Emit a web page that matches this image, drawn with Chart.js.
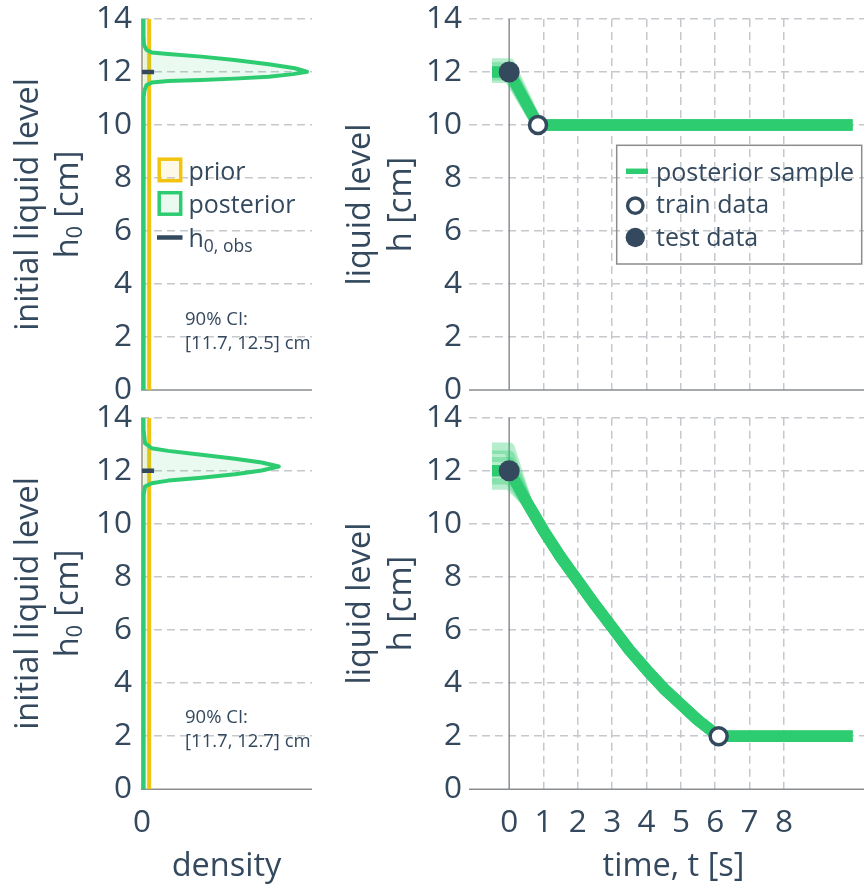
<!DOCTYPE html>
<html>
<head>
<meta charset="utf-8">
<title>Liquid level - prior / posterior</title>
<script src="https://cdn.jsdelivr.net/npm/chart.js@4.4.1/dist/chart.umd.min.js"></script>
<style>
  html, body { margin: 0; padding: 0; background: #fff; overflow: hidden; }
  body { width: 864px; height: 886px; position: relative; }
  canvas { position: absolute; }
</style>
</head>
<body>
<canvas id="densTop" width="330" height="404" style="left:0;top:0"></canvas>
<canvas id="densBot" width="330" height="486" style="left:0;top:400px"></canvas>
<canvas id="timeTop" width="548" height="404" style="left:330px;top:0"></canvas>
<canvas id="timeBot" width="548" height="486" style="left:330px;top:400px"></canvas>
<script>
// ── Style ────────────────────────────────────────────────────────────────────
const FONT   = "'Open Sans', 'Noto Sans', sans-serif";
const TEXT   = "#34495e";
const GREEN  = "#2ecc71";
const YELLOW = "#f1c40f";
const DARK   = "#34495e";
const GRID   = "#c5c8cc";
const ZERO   = "#8b8e91";
const TICK_SIZE = 31.5, TITLE_SIZE = 32.5, LEGEND_SIZE = 25, NOTE_SIZE = 18.5;

// ── Data ─────────────────────────────────────────────────────────────────────
const hTicks       = [0, 2, 4, 6, 8, 10, 12, 14];
const timeTicks    = [0, 1, 2, 3, 4, 5, 6, 7, 8];
const densityTicks = [0];

// prior: uniform over the h axis
const priorRange   = [0, 14];
const priorDensity = 0.0714;
const h0Obs        = 12;

// posterior density of h0 (top: after first train point, bottom: after second)
const postTopH       = [0, 10.8, 11.07, 11.32, 11.51, 11.6, 11.66, 11.7, 11.75, 11.82, 11.92, 12.01, 12.14, 12.29, 12.45, 12.58, 12.68, 12.74, 12.83, 13.02, 13.33, 14];
const postTopDensity = [0.015, 0.015, 0.017, 0.026, 0.046, 0.096, 0.26, 0.59, 0.92, 1.26, 1.5, 1.64, 1.52, 1.26, 0.92, 0.59, 0.26, 0.096, 0.046, 0.02, 0.016, 0.015];
const ciTop          = [11.7, 12.5];

const postBotH       = [0, 10.8, 11.09, 11.41, 11.53, 11.63, 11.74, 11.87, 12.01, 12.16, 12.31, 12.45, 12.6, 12.75, 12.85, 13.04, 13.54, 14];
const postBotDensity = [0.015, 0.015, 0.017, 0.03, 0.096, 0.26, 0.59, 0.925, 1.19, 1.36, 1.19, 0.925, 0.59, 0.26, 0.096, 0.03, 0.016, 0.015];
const ciBot          = [11.7, 12.7];

// liquid level over time, top panel
const fitTopT     = [-0.5, 0, 0.84, 10];
const fitTopH     = [12, 12, 10, 10];
const sampleTopH0 = [11.8, 12.3, 12.15, 11.9];
const trainTopT   = [0.84];
const trainTopH   = [10];
const testTopT    = [0];
const testTopH    = [12];

// liquid level over time, bottom panel
const fitBotT     = [-0.5, 0, 0.5, 1, 1.5, 2, 2.5, 3, 3.5, 4, 4.5, 5, 5.5, 6.1, 10];
const fitBotH     = [12, 12, 10.85, 9.75, 8.75, 7.85, 6.95, 6.1, 5.25, 4.5, 3.8, 3.2, 2.6, 2, 2];
const sampleBotH0 = [11.7, 12.3, 12.55, 11.5, 12.85];
const trainBotT   = [6.1];
const trainBotH   = [2];
const testBotT    = [0];
const testBotH    = [12];

// ── Helpers ──────────────────────────────────────────────────────────────────
const pts = (xs, ys) => xs.map((x, i) => ({ x, y: ys[i] }));

function drawRich(ctx, parts, x, y, size, align, subScale = 0.68, subDrop = 0.15) {
  const fontFor = sub => `${sub ? size * subScale : size}px ${FONT}`;
  let w = 0;
  parts.forEach(([t, sub]) => { ctx.font = fontFor(sub); w += ctx.measureText(t).width; });
  let cx = align === "center" ? x - w / 2 : x;
  ctx.textAlign = "left";
  parts.forEach(([t, sub]) => {
    ctx.font = fontFor(sub);
    ctx.fillText(t, cx, sub ? y + size * subDrop : y);
    cx += ctx.measureText(t).width;
  });
}

// solid zero lines under the data
const zeroLines = {
  id: "zeroLines",
  beforeDatasetsDraw(chart) {
    const { ctx, chartArea: a, scales: { x, y } } = chart;
    const x0 = x.getPixelForValue(0), y0 = y.getPixelForValue(0);
    ctx.save();
    ctx.strokeStyle = ZERO;
    ctx.lineWidth = 1.5;
    ctx.beginPath();
    ctx.moveTo(x0, a.top);  ctx.lineTo(x0, a.bottom);
    ctx.moveTo(a.left, y0); ctx.lineTo(a.right, y0);
    ctx.stroke();
    ctx.restore();
  },
};

// axis titles, CI note and hand-drawn legends
function decor(o) {
  return {
    id: "decor",
    afterDraw(chart) {
      const { ctx, chartArea: a } = chart;
      ctx.save();
      ctx.fillStyle = TEXT;
      ctx.textBaseline = "alphabetic";
      const cy = (a.top + a.bottom) / 2;
      o.yTitle.forEach((parts, i) => {
        ctx.save();
        ctx.translate(a.left - o.yTitleGap[i], cy);
        ctx.rotate(-Math.PI / 2);
        drawRich(ctx, parts, 0, 0, TITLE_SIZE, "center", 0.66, 0.12);
        ctx.restore();
      });
      if (o.xTitle) {
        ctx.font = `${TITLE_SIZE}px ${FONT}`;
        ctx.textAlign = "center";
        ctx.fillText(o.xTitle, (a.left + a.right) / 2, a.bottom + 87);
      }
      if (o.note) {
        ctx.font = `${NOTE_SIZE}px ${FONT}`;
        ctx.textAlign = "left";
        ctx.fillText(o.note[0], 185, a.top + 305.5);
        ctx.fillText(o.note[1], 185, a.top + 329.5);
      }
      if (o.legend) o.legend(ctx);
      ctx.restore();
    },
  };
}

function drawDensityLegend(ctx) {
  ctx.lineWidth = 3.5;
  [[YELLOW, "rgba(241,196,15,0.1)", 159.2], [GREEN, "rgba(46,204,113,0.1)", 192.7]].forEach(([stroke, fill, y]) => {
    ctx.fillStyle = fill;
    ctx.fillRect(159.2, y, 21.5, 21.5);
    ctx.strokeStyle = stroke;
    ctx.strokeRect(159.2, y, 21.5, 21.5);
  });
  ctx.strokeStyle = DARK;
  ctx.lineWidth = 4.5;
  ctx.beginPath(); ctx.moveTo(157, 237.5); ctx.lineTo(182.5, 237.5); ctx.stroke();
  ctx.fillStyle = TEXT;
  ctx.font = `${LEGEND_SIZE}px ${FONT}`;
  ctx.textAlign = "left";
  ctx.fillText("prior", 188.5, 180);
  ctx.fillText("posterior", 188.5, 213);
  drawRich(ctx, [["h"], ["0, obs", true]], 188.5, 246.5, LEGEND_SIZE, "left", 0.7, 0.21);
}

function drawTimeLegend(ctx) {
  ctx.strokeStyle = "#8c8c8c";
  ctx.lineWidth = 1.5;
  ctx.strokeRect(286.7, 145.3, 245, 118.7);
  ctx.strokeStyle = GREEN;
  ctx.lineWidth = 5.5;
  ctx.beginPath(); ctx.moveTo(296, 171.3); ctx.lineTo(318, 171.3); ctx.stroke();
  ctx.beginPath(); ctx.arc(305.3, 205.7, 7.7, 0, 2 * Math.PI);
  ctx.fillStyle = "#fff"; ctx.fill();
  ctx.strokeStyle = DARK; ctx.lineWidth = 3.4; ctx.stroke();
  ctx.beginPath(); ctx.arc(305.3, 237.5, 9.7, 0, 2 * Math.PI);
  ctx.fillStyle = DARK; ctx.fill();
  ctx.fillStyle = TEXT;
  ctx.font = `${LEGEND_SIZE}px ${FONT}`;
  ctx.textAlign = "left";
  ctx.fillText("posterior sample", 326, 181.3);
  ctx.fillText("train data", 326, 213.3);
  ctx.fillText("test data", 326, 245.5);
}

// ── Datasets ─────────────────────────────────────────────────────────────────
function densityDatasets(hs, ds) {
  return [
    { data: pts([0, 0.12], [h0Obs, h0Obs]), borderColor: DARK, borderWidth: 4.5, order: 0 },
    { data: pts(ds, hs), borderColor: GREEN, borderWidth: 4, backgroundColor: "rgba(46,204,113,0.1)", fill: "shape", order: 1 },
    { data: pts([priorDensity, priorDensity], priorRange), borderColor: YELLOW, borderWidth: 4, order: 2 },
    { data: pts([0, priorDensity, priorDensity, 0], [priorRange[0], priorRange[0], priorRange[1], priorRange[1]]),
      borderColor: "transparent", borderWidth: 0, backgroundColor: "rgba(241,196,15,0.1)", fill: "shape", order: 3 },
  ];
}

function timeDatasets(T, H, starts, trainT, trainH, testT, testH) {
  const samples = starts.map(h0 => ({
    data: T.map((t, i) => ({ x: t, y: t <= 0 ? h0 : H[i] })),
    borderColor: "rgba(46,204,113,0.35)", borderWidth: 11.5, order: 3,
  }));
  return [
    { data: pts(testT, testH), showLine: false, pointRadius: 10.5, pointBackgroundColor: DARK, pointBorderWidth: 0, order: 0 },
    { data: pts(trainT, trainH), showLine: false, pointRadius: 8.5, pointBackgroundColor: "#fff",
      pointBorderColor: DARK, pointBorderWidth: 3.5, order: 1 },
    { data: pts(T, H), borderColor: GREEN, borderWidth: 11.5, order: 2 },
    ...samples,
  ];
}

// ── Options ──────────────────────────────────────────────────────────────────
function chartOptions(box) {
  const tickFont = { family: FONT, size: TICK_SIZE };
  return {
    responsive: false,
    animation: false,
    events: [],
    layout: { autoPadding: false, padding: { left: 0, top: box.top, right: box.right, bottom: 0 } },
    elements: {
      point: { radius: 0 },
      line:  { tension: 0, borderCapStyle: "butt", borderJoinStyle: "round" },
    },
    plugins: { legend: { display: false }, tooltip: { enabled: false } },
    scales: {
      x: {
        type: "linear", min: box.xMin, max: box.xMax,
        afterBuildTicks: s => { s.ticks = box.xTicks.map(value => ({ value })); },
        afterFit: s => { s.height = box.xHeight; s.paddingLeft = 0; s.paddingRight = 0; },
        grid: { drawTicks: false, lineWidth: 1.5,
                color: c => (box.xGrid && c.tick && c.tick.value !== 0) ? GRID : "transparent" },
        border: { display: false, dash: [8, 5] },
        ticks: { display: box.xLabels, color: TEXT, font: tickFont, padding: 14.7, maxRotation: 0, autoSkip: false },
      },
      y: {
        type: "linear", min: 0, max: 14,
        afterBuildTicks: s => { s.ticks = hTicks.map(value => ({ value })); },
        afterFit: s => { s.width = box.yWidth; s.paddingTop = 0; s.paddingBottom = 0; },
        grid: { drawTicks: false, lineWidth: 1.5,
                color: c => (c.tick && c.tick.value !== 0) ? GRID : "transparent" },
        border: { display: false, dash: [8, 5] },
        ticks: { color: TEXT, font: tickFont, padding: box.yPad, autoSkip: false },
      },
    },
  };
}

const densBox = { right: 18, yWidth: 141, yPad: 9, xMin: -0.01, xMax: 1.69, xTicks: densityTicks, xGrid: false };
const timeBox = { right: 0, yWidth: 139, yPad: 7, xMin: -1.17, xMax: 10.74, xTicks: timeTicks, xGrid: true };
const topRow  = { top: 19, xHeight: 14, xLabels: false };
const botRow  = { top: 17.7, xHeight: 96.7, xLabels: true };

const h0Title = [[["initial liquid level"]], [["h"], ["0", true], [" [cm]"]]];
const hTitle  = [[["liquid level"]], [["h [cm]"]]];

// ── Charts ───────────────────────────────────────────────────────────────────
new Chart(document.getElementById("densTop"), {
  type: "line",
  data: { datasets: densityDatasets(postTopH, postTopDensity) },
  options: chartOptions({ ...densBox, ...topRow }),
  plugins: [zeroLines, decor({
    yTitle: h0Title, yTitleGap: [103, 63],
    note: ["90% CI:", `[${ciTop[0]}, ${ciTop[1]}] cm`],
    legend: drawDensityLegend,
  })],
});

new Chart(document.getElementById("densBot"), {
  type: "line",
  data: { datasets: densityDatasets(postBotH, postBotDensity) },
  options: chartOptions({ ...densBox, ...botRow }),
  plugins: [zeroLines, decor({
    yTitle: h0Title, yTitleGap: [103, 63], xTitle: "density",
    note: ["90% CI:", `[${ciBot[0]}, ${ciBot[1]}] cm`],
  })],
});

new Chart(document.getElementById("timeTop"), {
  type: "line",
  data: { datasets: timeDatasets(fitTopT, fitTopH, sampleTopH0, trainTopT, trainTopH, testTopT, testTopH) },
  options: chartOptions({ ...timeBox, ...topRow }),
  plugins: [zeroLines, decor({ yTitle: hTitle, yTitleGap: [99, 58], legend: drawTimeLegend })],
});

new Chart(document.getElementById("timeBot"), {
  type: "line",
  data: { datasets: timeDatasets(fitBotT, fitBotH, sampleBotH0, trainBotT, trainBotH, testBotT, testBotH) },
  options: chartOptions({ ...timeBox, ...botRow }),
  plugins: [zeroLines, decor({ yTitle: hTitle, yTitleGap: [99, 58], xTitle: "time, t [s]" })],
});
</script>
</body>
</html>
